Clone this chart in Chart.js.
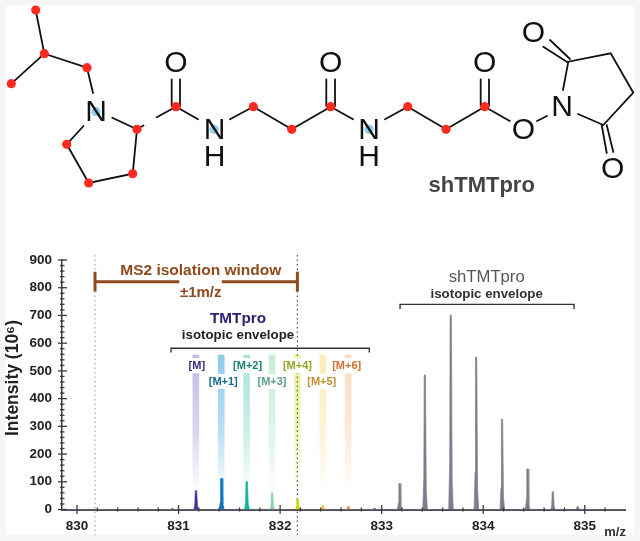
<!DOCTYPE html>
<html>
<head>
<meta charset="utf-8">
<style>
html,body{margin:0;padding:0;width:640px;height:541px;overflow:hidden;background:#f5f5f5}
#card{position:absolute;left:6px;top:5px;width:628px;height:530px;background:#fff}
canvas{position:absolute;left:0;top:0}
</style>
<script src="https://cdn.jsdelivr.net/npm/chart.js@4/dist/chart.umd.min.js"></script>
</head>
<body>
<div id="card"></div>
<canvas id="spec" width="640" height="541"></canvas>
<canvas id="mol" width="640" height="215"></canvas>
<script>
// ---------- spectrum data ----------
const xTickLabels = [830, 831, 832, 833, 834, 835];
const yTickLabels = [0, 100, 200, 300, 400, 500, 600, 700, 800, 900];
const isotopeNames = ['[M]', '[M+1]', '[M+2]', '[M+3]', '[M+4]', '[M+5]', '[M+6]'];
const bandMz = [831.17, 831.42, 831.67, 831.92, 832.17, 832.42, 832.67];
const bandHeights = [557, 557, 557, 557, 557, 557, 557];
const peakColors = ['#4a2f9c', '#0b74b8', '#10b594', '#8ad6a4', '#c8d800', '#f2c230', '#f08a3c'];
const bandColors = ['#c2bce4', '#8fcbec', '#a8e5da', '#caeed4', '#ecf29a', '#fdecbc', '#fcdcc2'];
const labelColors = ['#3a2a7c', '#1a6a96', '#1a7f72', '#5f9f82', '#8fa81f', '#c2902d', '#d07030'];

const tmtMz = [
  [831.150, 831.160, 831.164, 831.178, 831.186, 831.200],
  [831.400, 831.410, 831.414, 831.428, 831.436, 831.450],
  [831.650, 831.660, 831.664, 831.678, 831.686, 831.700],
  [831.900, 831.910, 831.914, 831.928, 831.936, 831.950],
  [832.150, 832.160, 832.164, 832.178, 832.186, 832.200],
  [832.400, 832.410, 832.414, 832.428, 832.436, 832.450],
  [832.650, 832.660, 832.664, 832.678, 832.686, 832.700]
];
const tmtIntensity = [
  [0, 16, 68, 68, 12, 0],
  [0, 26, 112, 112, 20, 0],
  [0, 24, 100, 100, 18, 0],
  [0, 14, 60, 60, 10, 0],
  [0, 9, 37, 37, 7, 0],
  [0, 4, 14, 14, 3, 0],
  [0, 3, 12, 12, 2, 0]
];
const shMz = [829.852, 830.92, 830.94, 830.96,
  832.91, 832.93, 832.95,
  833.155, 833.165, 833.169, 833.181, 833.189, 833.200,
  833.405, 833.415, 833.419, 833.431, 833.439, 833.450,
  833.660, 833.670, 833.674, 833.686, 833.694, 833.705,
  833.910, 833.920, 833.924, 833.936, 833.944, 833.955,
  834.165, 834.175, 834.179, 834.191, 834.199, 834.210,
  834.415, 834.425, 834.429, 834.441, 834.449, 834.460,
  834.665, 834.675, 834.679, 834.691, 834.699, 834.710,
  834.91, 834.93, 834.95, 835.396];
const shIntensity = [0, 0, 5, 0,
  0, 6, 0,
  0, 24, 94, 94, 18, 0,
  0, 120, 485, 485, 70, 0,
  0, 175, 701, 701, 100, 0,
  0, 135, 549, 549, 80, 0,
  0, 80, 326, 326, 48, 0,
  0, 36, 146, 146, 22, 0,
  0, 16, 64, 64, 10, 0,
  0, 12, 0, 0];

// annotation marks, in axis units
const isolationX = [830.177, 831.007, null, 831.425, 832.17];
const isolationY = [821.7, 821.7, null, 821.7, 821.7];
const tmtBracketX = [830.926, 830.926, 832.878, 832.878];
const tmtBracketY = [566, 581.5, 581.5, 566];
const shBracketX = [833.181, 833.181, 834.894, 834.894];
const shBracketY = [723, 740, 740, 723];

// ---------- molecule data (drawing units: px of the upper panel) ----------
const atomRed = [[35.7,10],[44.3,53.7],[11.3,83.7],[87,67.7],[137,129.3],[132.7,173.7],[88.7,183],[66.7,144.3],
  [176,106.7],[253.3,106.7],[291.7,129.3],[330.7,106.7],[407.7,106.7],[446,129.3],[484.7,106.7]];
const atomBlue = [[96,111.7],[214,129.3],[369,129.3]];
const bonds = [
  [[35.7,10],[44.3,53.7]], [[11.3,83.7],[44.3,53.7],[87,67.7],[93,93]],
  [[112.3,117.7],[137,129.3],[132.7,173.7],[88.7,183],[66.7,144.3],[83.5,126]],
  [[137,129.3],[143.5,125.5]], [[156.7,117.3],[176,106.7],[198,119.3]],
  [[171.7,79.3],[171.7,106]], [[180,79.3],[180,106]],
  [[230,119.3],[253.3,106.7],[291.7,129.3],[330.7,106.7],[353,119.3]],
  [[326.3,79.3],[326.3,106]], [[335,79.3],[335,106]],
  [[385,119.3],[407.7,106.7],[446,129.3],[484.7,106.7],[509.7,121]],
  [[480.7,79.3],[480.7,106]], [[489,79.3],[489,106]],
  [[537,121],[547,116]], [[563,90],[568.3,61.7],[610.7,53.3],[633.3,92.7],[603.3,125],[578,114]],
  [[543.3,46.7],[566.7,61.7]], [[550,40],[570,59]],
  [[601.7,125],[606.7,153]], [[606.7,125],[613.3,152]]
];
const atomTexts = [['O',176,63],['O',330.7,63],['O',484.7,63],['O',533.5,32.7],['O',523.3,129.3],['O',612.7,168.3],
  ['N',96,111.7],['N',214.5,129.3],['H',214.5,157],['N',369,129.3],['H',369,157],['N',562,107]];

const FONT = '"Liberation Sans", Arial, sans-serif';
const toPts = (xs, ys) => xs.map((x, i) => ({x: x === null ? bandMz[0] : x, y: ys[i]}));
const lineSet = (data, color, width, extra) => Object.assign({
  type: 'line', data, borderColor: color, borderWidth: width, pointRadius: 0,
  fill: false, tension: 0, spanGaps: false, order: 1
}, extra || {});

const datasets = [
  { type: 'bar', data: bandMz.map((m, i) => ({x: m, y: bandHeights[i]})), barThickness: 6, order: 5,
    backgroundColor: c => {
      const col = bandColors[c.dataIndex] || '#cccccc';
      const s = c.chart.scales;
      const a = s && s.y ? s.y.getPixelForValue(557) : NaN;
      const b = s && s.y ? s.y.getPixelForValue(50) : NaN;
      if (!Number.isFinite(a) || !Number.isFinite(b)) return col;
      const g = c.chart.ctx.createLinearGradient(0, a, 0, b);
      g.addColorStop(0, col);
      g.addColorStop(0.55, col + '99');
      g.addColorStop(1, col + '00');
      return g;
    } },
  lineSet([{x:830.177,y:918},{x:830.177,y:-92}], '#a8a8a8', 1.2, {borderDash:[1.5,3], clip:false, order:4}),
  lineSet([{x:832.17,y:918},{x:832.17,y:-92}], '#555', 1.2, {borderDash:[1.5,3], clip:false, order:4}),
  lineSet(toPts(shMz, shIntensity), '#7d7d8c', 0.7, {fill:'origin', backgroundColor:'#7d7d8c', order:2}),
  ...tmtMz.map((m, i) => lineSet(toPts(m, tmtIntensity[i]), peakColors[i], 0.7,
      {fill:'origin', backgroundColor:peakColors[i], order:2})),
  lineSet(toPts(isolationX, isolationY), '#8f4a1e', 3),
  lineSet([{x:830.177,y:858},{x:830.177,y:786}], '#8f4a1e', 3),
  lineSet([{x:832.17,y:858},{x:832.17,y:786}], '#8f4a1e', 3),
  lineSet(toPts(tmtBracketX, tmtBracketY), '#333', 1.4),
  lineSet(toPts(shBracketX, shBracketY), '#333', 1.4)
];

const annotationTexts = [
  ['MS2 isolation window', 830+(200.7-77)/101.55, 860.6, 'bold 15.5px '+FONT, '#8f4a1e', 'center'],
  ['±1m/z', 830+(200.7-77)/101.55, 781, 'bold 15px '+FONT, '#8f4a1e', 'center'],
  ['TMTpro', 831.585, 688.2, 'bold 15.3px '+FONT, '#2b2270', 'center'],
  ['isotopic envelope', 831.585, 626.9, 'bold 13.3px '+FONT, '#222', 'center'],
  ['shTMTpro', 834.034, 836, '16.7px '+FONT, '#555', 'center'],
  ['isotopic envelope', 834.034, 776, 'bold 13.3px '+FONT, '#333', 'center'],
  ['m/z', 835.298, -82, 'bold 13px '+FONT, '#333', 'center']
];
const labelRows = [517, 460, 517, 460, 517, 460, 517];
const labelMz = [831.18, 831.44, 831.68, 831.92, 832.17, 832.41, 832.655];

const specDecor = {
  id: 'specDecor',
  afterDatasetsDraw(chart) {
    const {ctx, scales: {x, y}} = chart;
    ctx.save();
    // isotope labels with a white plate that interrupts the bands
    ctx.font = 'bold 11px ' + FONT;
    ctx.textAlign = 'center'; ctx.textBaseline = 'middle';
    isotopeNames.forEach((t, i) => {
      const px = x.getPixelForValue(labelMz[i]), py = y.getPixelForValue(labelRows[i]);
      const w = ctx.measureText(t).width;
      ctx.fillStyle = '#fff';
      ctx.fillRect(px - w/2 - 1, py - 8, w + 2, 15);
      ctx.fillStyle = labelColors[i];
      ctx.fillText(t, px, py);
    });
    annotationTexts.forEach(([t, mx, my, font, color, al]) => {
      ctx.font = font; ctx.fillStyle = color; ctx.textAlign = al; ctx.textBaseline = 'middle';
      ctx.fillText(t, x.getPixelForValue(mx), y.getPixelForValue(my));
    });
    // y title
    ctx.save();
    ctx.translate(13.5, 378); ctx.rotate(-Math.PI/2);
    ctx.font = 'bold 17.5px ' + FONT; ctx.fillStyle = '#222';
    ctx.fillText('Intensity (10⁶)', 0, 0);
    ctx.restore();
    // tick marks
    ctx.strokeStyle = '#3a3a44'; ctx.lineWidth = 1.3;
    const y0 = y.getPixelForValue(0), xL = x.left;
    for (let v = 0; v <= 900; v += 20) {
      const p = y.getPixelForValue(v), major = v % 100 === 0;
      ctx.beginPath();
      ctx.moveTo(major ? xL - 4 : xL - 2, p); ctx.lineTo(major ? xL + 5 : xL + 2.5, p);
      ctx.stroke();
    }
    for (let k = 0; k <= 26; k++) {
      const v = 830 + k * 0.2, p = x.getPixelForValue(v), major = k % 5 === 0;
      ctx.beginPath();
      ctx.moveTo(p, y0 - (major ? 4.5 : 2)); ctx.lineTo(p, y0 + (major ? 4.5 : 2));
      ctx.stroke();
    }
    ctx.restore();
  }
};

new Chart(document.getElementById('spec'), {
  type: 'bar',
  data: { datasets },
  plugins: [specDecor],
  options: {
    responsive: false, animation: false, parsing: true,
    layout: { autoPadding:false, padding: { top: 260, right: 15, left: 0, bottom: 0 } },
    plugins: { legend: {display:false}, tooltip: {enabled:false}, title:{display:false} },
    scales: {
      x: { type:'linear', min:829.852, max:835.396, offset:false,
        afterBuildTicks: s => { s.ticks = xTickLabels.map(v => ({value:v})); },
        afterFit: s => { s.height = 31.5; },
        grid: {display:true, drawOnChartArea:false, drawTicks:false, offset:false},
        border: {display:true, color:'#50505f', width:2},
        ticks: {autoSkip:false, maxRotation:0, padding:9, color:'#222', font:{family:FONT, size:13.5, weight:'bold'},
          callback: v => String(v)} },
      y: { type:'linear', min:0, max:900,
        afterBuildTicks: s => { s.ticks = yTickLabels.map(v => ({value:v})); },
        afterFit: s => { s.width = 62; },
        grid: {display:true, drawOnChartArea:false, drawTicks:false},
        border: {display:true, color:'#3a3a44', width:1.5},
        ticks: {autoSkip:false, padding:10, color:'#222', font:{family:FONT, size:13.5, weight:'bold'},
          callback: v => String(v)} }
    }
  }
});

// ---------- molecule panel ----------
const bondPts = [];
bonds.forEach(b => { b.forEach(p => bondPts.push({x:p[0], y:p[1]})); bondPts.push({x:b[b.length-1][0], y:null}); });
const molText = {
  id: 'molText',
  afterDatasetsDraw(chart) {
    const {ctx, scales:{x, y}} = chart;
    ctx.save();
    ctx.fillStyle = '#111'; ctx.textAlign = 'center'; ctx.textBaseline = 'middle';
    ctx.font = '30px ' + FONT;
    atomTexts.forEach(([t, a, b]) => ctx.fillText(t, x.getPixelForValue(a), y.getPixelForValue(b) + 1));
    ctx.font = 'bold 22px ' + FONT; ctx.fillStyle = '#444';
    ctx.fillText('shTMTpro', x.getPixelForValue(481.7), y.getPixelForValue(186));
    ctx.restore();
  }
};
new Chart(document.getElementById('mol'), {
  type: 'scatter',
  data: { datasets: [
    { data: atomRed.map(p => ({x:p[0], y:p[1]})), pointRadius:4.6, backgroundColor:'#ff2a20', borderWidth:0, order:1 },
    { data: atomBlue.map(p => ({x:p[0], y:p[1]})), pointRadius:4.6, backgroundColor:'#8fcdf0', borderWidth:0, order:3 },
    { data: bondPts, showLine:true, pointRadius:0, borderColor:'#111', borderWidth:1.8, spanGaps:false, order:2, borderCapStyle:'round' }
  ] },
  plugins: [molText],
  options: {
    responsive:false, animation:false,
    layout:{autoPadding:false, padding:0},
    plugins:{legend:{display:false}, tooltip:{enabled:false}},
    scales:{
      x:{type:'linear', min:0, max:640, display:false},
      y:{type:'linear', min:0, max:215, reverse:true, display:false}
    }
  }
});
</script>
</body>
</html>
